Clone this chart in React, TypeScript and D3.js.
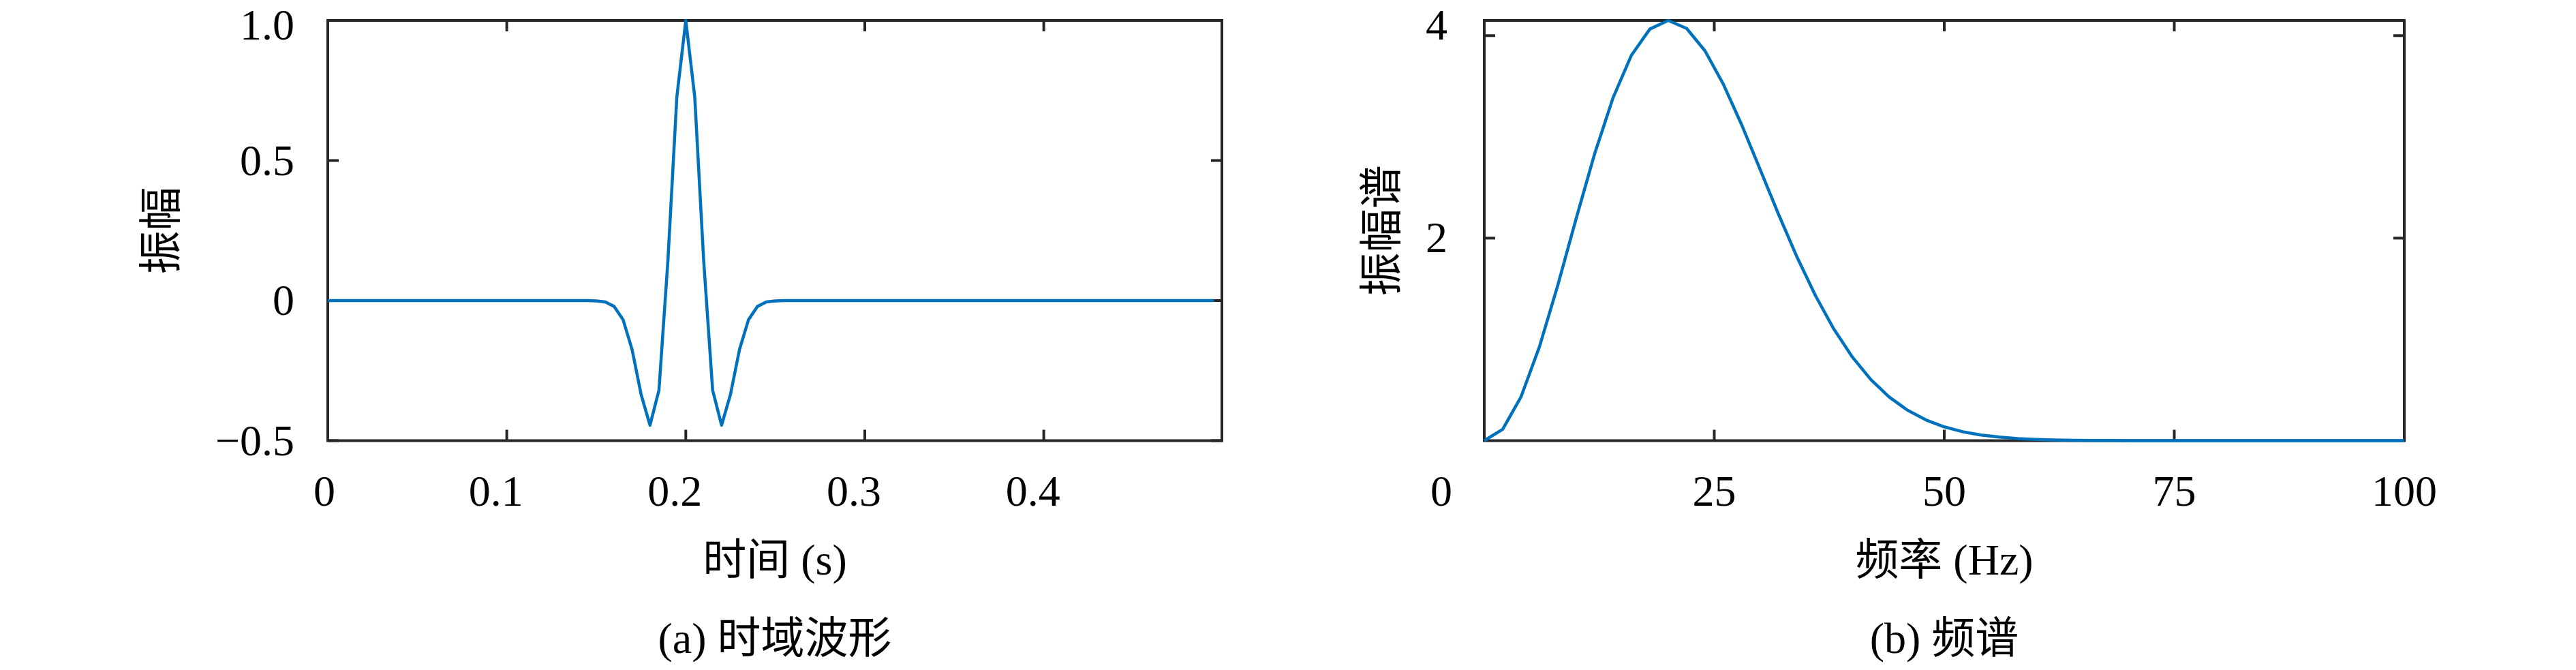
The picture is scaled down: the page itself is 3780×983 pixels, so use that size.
import React from "react";
import * as d3 from "d3";

// ---------- data ----------
// (a) time-domain waveform, sampled every 0.005 s from 0 to 0.495 s
const TIME_STEP = 0.005;
const waveformValues: number[] = [
  0, 0, 0, 0, 0, 0, 0, 0, 0, 0,
  0, 0, 0, 0, 0, 0, 0, 0, 0, 0,
  0, 0, 0, 0, 0, 0, 0, 0, 0, 0,
  -0.001, -0.005, -0.021, -0.069, -0.175, -0.334, -0.445, -0.32, 0.142, 0.727,
  1.0, 0.727, 0.142, -0.32, -0.445, -0.334, -0.175, -0.069, -0.021, -0.005,
  -0.001, 0, 0, 0, 0, 0, 0, 0, 0, 0,
  0, 0, 0, 0, 0, 0, 0, 0, 0, 0,
  0, 0, 0, 0, 0, 0, 0, 0, 0, 0,
  0, 0, 0, 0, 0, 0, 0, 0, 0, 0,
  0, 0, 0, 0, 0, 0, 0, 0, 0, 0,
];
const timeTicks = [0, 0.1, 0.2, 0.3, 0.4];
const timeTickLabels = ["0", "0.1", "0.2", "0.3", "0.4"];
const ampTicks = [-0.5, 0, 0.5, 1.0];
const ampTickLabels = ["\u22120.5", "0", "0.5", "1.0"];

// (b) amplitude spectrum, every 2 Hz from 0 to 100 Hz
const FREQ_STEP = 2;
const spectrumValues: number[] = [
  0, 0.112, 0.434, 0.928, 1.538, 2.197, 2.834, 3.387, 3.807, 4.065,
  4.15, 4.071, 3.849, 3.518, 3.115, 2.675, 2.233, 1.812, 1.432, 1.102,
  0.827, 0.605, 0.432, 0.301, 0.205, 0.136, 0.088, 0.056, 0.035, 0.021,
  0.0125, 0.0073, 0.0041, 0.0023, 0.0012, 0.0006, 0.0003, 0.0002, 0.0001, 0,
  0, 0, 0, 0, 0, 0, 0, 0, 0, 0,
  0,
];
const freqTicks = [0, 25, 50, 75, 100];
const freqTickLabels = ["0", "25", "50", "75", "100"];
const specTicks = [2, 4];
const specTickLabels = ["2", "4"];

// ---------- style ----------
const W = 3780;
const H = 983;
const AXIS = "#262626";
const LINE = "#0072BD";
const FONT = "'Liberation Serif', 'Noto Sans CJK SC', serif";
const FS = 64;
const TICK = 16;
const TOP = 30;
const BOTTOM = 646.5;

type PanelProps = {
  x0: number;
  x1: number;
  xDomain: [number, number];
  yDomain: [number, number];
  xs: number[];
  ys: number[];
  xTicks: number[];
  xLabels: string[];
  yTicks: number[];
  yLabels: string[];
  xLabelDx: (lbl: string, i: number) => number;
  yLabelY: (v: number, py: number) => number;
  yLabelRight: number;
  yTitle: string;
  yTitleX: number;
  xTitle: string;
  caption: string;
};

function Panel(p: PanelProps) {
  const x = d3.scaleLinear().domain(p.xDomain).range([p.x0, p.x1]);
  const y = d3.scaleLinear().domain(p.yDomain).range([BOTTOM, TOP]);
  const pts: [number, number][] = p.xs.map((v, i) => [v, p.ys[i]]);
  const path = d3
    .line<[number, number]>()
    .x((d) => x(d[0]))
    .y((d) => y(d[1]))(pts) as string;
  const cx = (p.x0 + p.x1) / 2;
  const cy = (TOP + BOTTOM) / 2;
  return (
    <g>
      <rect
        x={p.x0}
        y={TOP}
        width={p.x1 - p.x0}
        height={BOTTOM - TOP}
        fill="none"
        stroke={AXIS}
        strokeWidth={4}
      />
      {p.xTicks.map((t) => (
        <g key={"xt" + t}>
          <line x1={x(t)} x2={x(t)} y1={BOTTOM} y2={BOTTOM - TICK} stroke={AXIS} strokeWidth={4} />
          <line x1={x(t)} x2={x(t)} y1={TOP} y2={TOP + TICK} stroke={AXIS} strokeWidth={4} />
        </g>
      ))}
      {p.yTicks.map((t) => (
        <g key={"yt" + t}>
          <line x1={p.x0} x2={p.x0 + TICK} y1={y(t)} y2={y(t)} stroke={AXIS} strokeWidth={4} />
          <line x1={p.x1} x2={p.x1 - TICK} y1={y(t)} y2={y(t)} stroke={AXIS} strokeWidth={4} />
        </g>
      ))}
      <path d={path} fill="none" stroke={LINE} strokeWidth={4.5} strokeLinejoin="round" />
      {p.xTicks.map((t, i) => (
        <text
          key={"xl" + t}
          x={x(t) + p.xLabelDx(p.xLabels[i], i)}
          y={742}
          textAnchor="middle"
          fontFamily={FONT}
          fontSize={FS}
          fill="#000"
        >
          {p.xLabels[i]}
        </text>
      ))}
      {p.yTicks.map((t, i) => (
        <text
          key={"yl" + t}
          x={p.yLabelRight}
          y={Math.max(p.yLabelY(t, y(t)) + 21, 58)}
          textAnchor="end"
          fontFamily={FONT}
          fontSize={FS}
          fill="#000"
        >
          {p.yLabels[i]}
        </text>
      ))}
      <text
        transform={`translate(${p.yTitleX},${cy}) rotate(-90)`}
        textAnchor="middle"
        dominantBaseline="central"
        fontFamily={FONT}
        fontSize={FS}
        fill="#000"
      >
        {p.yTitle}
      </text>
      <text x={cx} y={843} textAnchor="middle" fontFamily={FONT} fontSize={FS} fill="#000">
        {p.xTitle}
      </text>
      <text x={cx} y={958} textAnchor="middle" fontFamily={FONT} fontSize={FS} fill="#000">
        {p.caption}
      </text>
    </g>
  );
}

export default function App() {
  const times = waveformValues.map((_, i) => i * TIME_STEP);
  const freqs = spectrumValues.map((_, i) => i * FREQ_STEP);
  return (
    <svg
      width={W}
      height={H}
      viewBox={`0 0 ${W} ${H}`}
      style={{ position: "absolute", left: 0, top: 0, background: "#fff" }}
    >
      <rect x={0} y={0} width={W} height={H} fill="#fff" />
      <Panel
        x0={481}
        x1={1793}
        xDomain={[0, 0.4995]}
        yDomain={[-0.5, 1.0]}
        xs={times}
        ys={waveformValues}
        xTicks={timeTicks}
        xLabels={timeTickLabels}
        yTicks={ampTicks}
        yLabels={ampTickLabels}
        xLabelDx={(lbl) => (lbl.length > 1 ? -16 : -5)}
        yLabelY={(_, py) => py}
        yLabelRight={432}
        yTitle="振幅"
        yTitleX={236}
        xTitle="时间 (s)"
        caption="(a) 时域波形"
      />
      <Panel
        x0={2178}
        x1={3528}
        xDomain={[0, 100]}
        yDomain={[0, 4.15]}
        xs={freqs}
        ys={spectrumValues}
        xTicks={freqTicks}
        xLabels={freqTickLabels}
        yTicks={specTicks}
        yLabels={specTickLabels}
        xLabelDx={(_, i) => (i === 0 ? -63 : 0)}
        yLabelY={(v, py) => (py - TOP < 30 ? TOP : py)}
        yLabelRight={2124}
        yTitle="振幅谱"
        yTitleX={2027}
        xTitle="频率 (Hz)"
        caption="(b) 频谱"
      />
    </svg>
  );
}
